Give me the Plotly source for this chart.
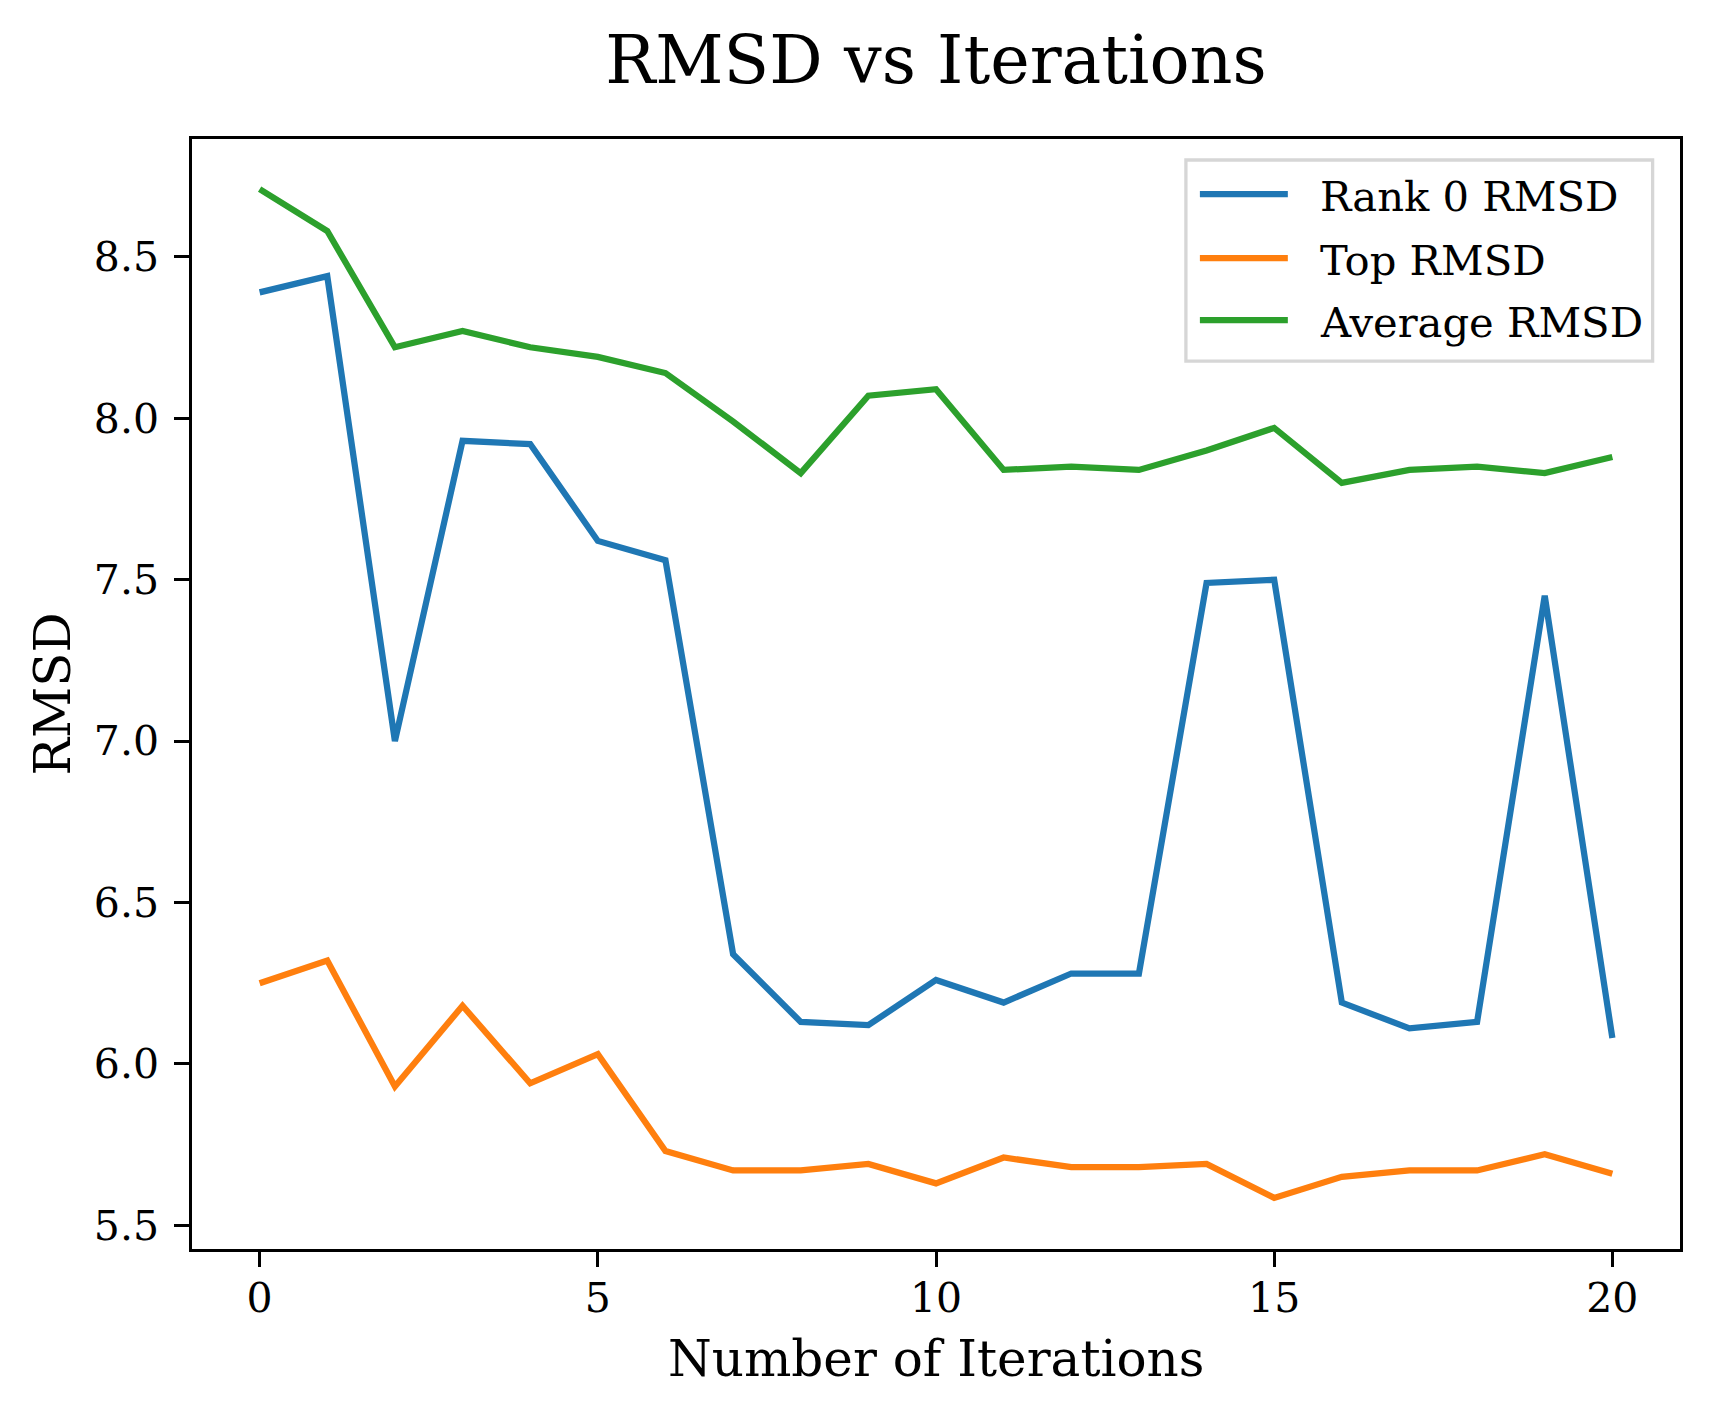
import plotly.graph_objects as go

# values
iterations = list(range(21))
rank0_rmsd = [8.39, 8.44, 7.00, 7.93, 7.92, 7.62, 7.56, 6.34, 6.13, 6.12, 6.26,
              6.19, 6.28, 6.28, 7.49, 7.50, 6.19, 6.11, 6.13, 7.45, 6.08]
top_rmsd = [6.25, 6.32, 5.93, 6.18, 5.94, 6.03, 5.73, 5.67, 5.67, 5.69, 5.63,
            5.71, 5.68, 5.68, 5.69, 5.585, 5.65, 5.67, 5.67, 5.72, 5.66]
avg_rmsd = [8.71, 8.58, 8.22, 8.27, 8.22, 8.19, 8.14, 7.99, 7.83, 8.07, 8.09,
            7.84, 7.85, 7.84, 7.90, 7.97, 7.80, 7.84, 7.85, 7.83, 7.88]

series_names = ["Rank 0 RMSD", "Top RMSD", "Average RMSD"]
series_colors = ["#1f77b4", "#ff7f0e", "#2ca02c"]

x_ticks = [0, 5, 10, 15, 20]
y_ticks = [5.5, 6.0, 6.5, 7.0, 7.5, 8.0, 8.5]

FONT = "DejaVu Serif"
# the page body has an 8px margin, so the figure is a bit smaller than the window
OFF = 8
W, H = 1709 - OFF, 1415 - OFF
PL, PT, PR, PB = 191.5 - OFF, 139 - OFF, 1680.4 - OFF, 1248.7 - OFF
PW, PH = PR - PL, PB - PT


def xp(px):
    return (px - OFF - PL) / PW


def yp(py):
    return (PB - (py - OFF)) / PH


fig = go.Figure()
for name, vals, color in zip(series_names, [rank0_rmsd, top_rmsd, avg_rmsd], series_colors):
    fig.add_trace(go.Scatter(
        x=iterations, y=vals, mode="lines", name=name,
        line=dict(color=color, width=6.25),
    ))

axis_style = dict(
    showline=True, linecolor="black", linewidth=3.3, mirror=True,
    ticks="outside", ticklen=14.6, tickwidth=3.3, tickcolor="black",
    showgrid=False, zeroline=False,
    tickfont=dict(family=FONT, size=41, color="black"),
)

fig.update_xaxes(range=[-1, 21], tickvals=x_ticks, ticklabelstandoff=-4, **axis_style)
fig.update_yaxes(range=[5.4266, 8.865], tickvals=y_ticks, tickformat=".1f",
                 ticklabelstandoff=7, **axis_style)

# matplotlib-style legend box drawn by hand (long line samples)
shapes = [dict(type="rect", xref="paper", yref="paper",
               x0=xp(1186), x1=xp(1653), y0=yp(361), y1=yp(160),
               line=dict(color="#d6d6d6", width=3.3), fillcolor="rgba(255,255,255,0.8)",
               layer="above")]
annotations = []
row_y = [194, 258, 320]
for name, color, ry in zip(series_names, series_colors, row_y):
    shapes.append(dict(type="line", xref="paper", yref="paper",
                       x0=xp(1200), x1=xp(1288), y0=yp(ry), y1=yp(ry),
                       line=dict(color=color, width=6.25), layer="above"))
    annotations.append(dict(text=name, xref="paper", yref="paper",
                            x=xp(1318), y=yp(ry + 2), xanchor="left", yanchor="middle",
                            showarrow=False,
                            font=dict(family=FONT, size=41.7, color="black")))

annotations += [
    dict(text="Number of Iterations", xref="paper", yref="paper",
         x=0.5, y=yp(1359), xanchor="center", yanchor="middle",
         showarrow=False, font=dict(family=FONT, size=50, color="black")),
    dict(text="RMSD", xref="paper", yref="paper", textangle=-90,
         x=xp(52), y=0.5, xanchor="center", yanchor="middle",
         showarrow=False, font=dict(family=FONT, size=50, color="black")),
]

fig.update_layout(
    width=W, height=H,
    margin=dict(l=PL, r=W - PR, t=PT, b=H - PB, autoexpand=False),
    paper_bgcolor="white", plot_bgcolor="white",
    font=dict(family=FONT, color="black"),
    title=dict(text="RMSD vs Iterations", x=(PL + PR) / 2 / W, xanchor="center",
               y=1 - (60 - OFF) / H, yanchor="middle",
               font=dict(family=FONT, size=66.7, color="black")),
    showlegend=False,
    shapes=shapes,
    annotations=annotations,
)

fig.write_html("out.html")
